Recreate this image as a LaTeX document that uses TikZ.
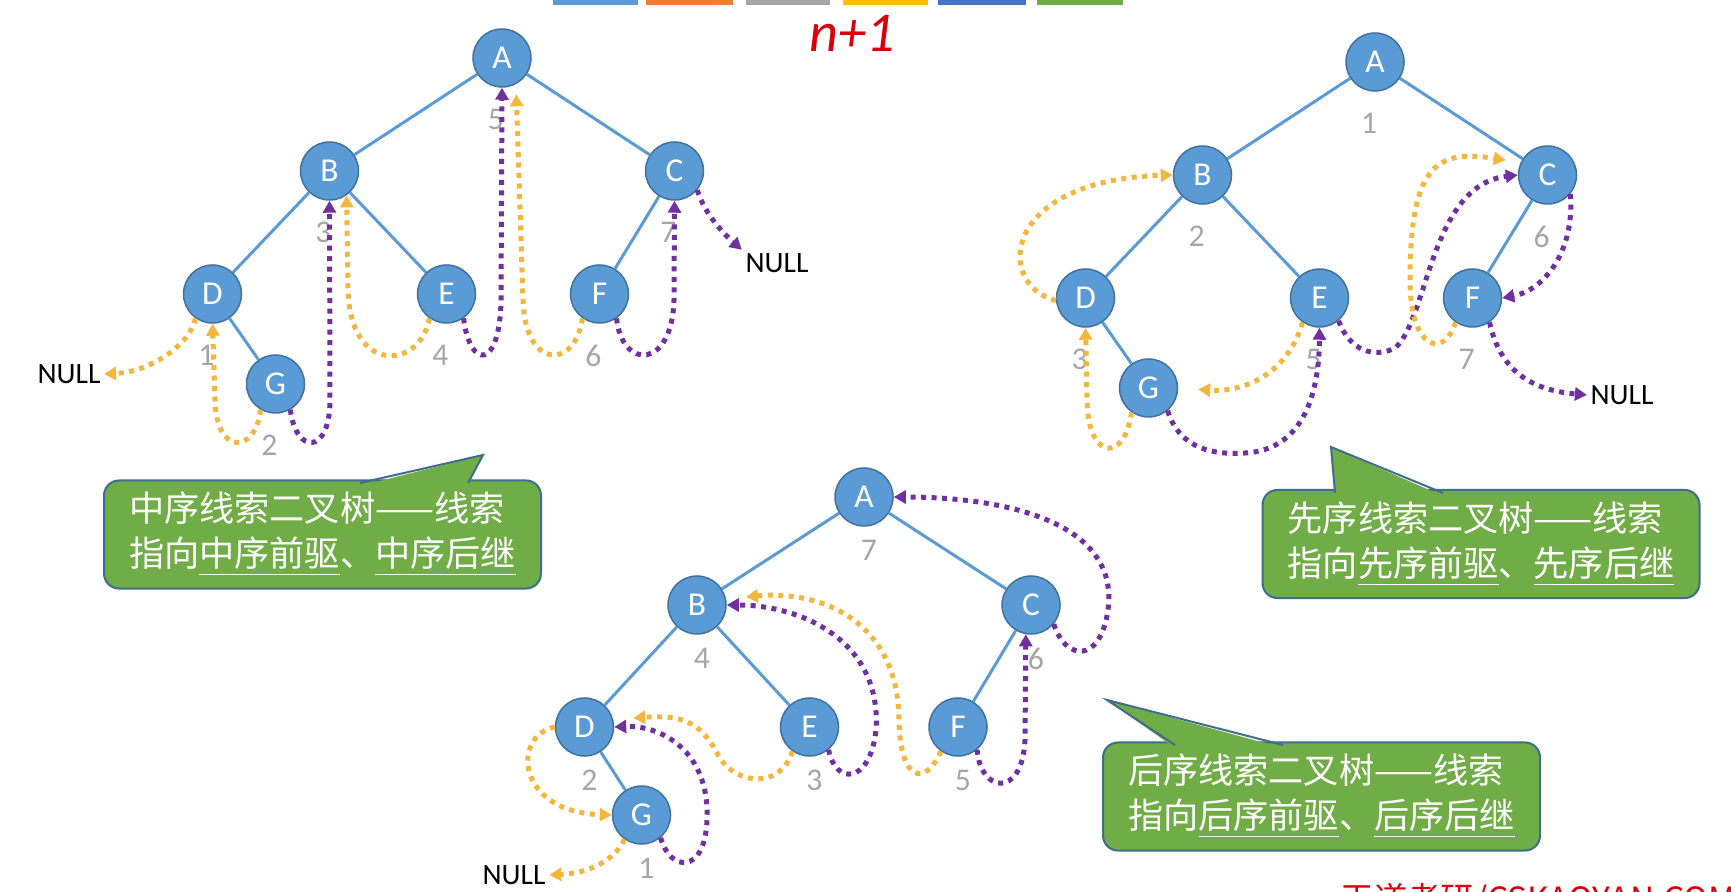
\documentclass[tikz,border=0pt]{standalone}
\usepackage{fontspec}
\setmainfont{Carlito}
\newfontfamily\cjk{Noto Sans CJK SC}
\usepackage{xcolor}
\usetikzlibrary{arrows.meta}

\definecolor{nodeblue}{HTML}{5B9BD5}
\definecolor{nodeline}{HTML}{41719C}
\definecolor{edgeblue}{HTML}{5B9BD5}
\definecolor{thryellow}{HTML}{F2B73C}
\definecolor{thrpurple}{HTML}{7030A0}
\definecolor{ordgray}{HTML}{A6A6A6}
\definecolor{notegreen}{HTML}{70AD47}
\definecolor{noteline}{HTML}{3E6E8E}
\definecolor{penred}{HTML}{D9000D}
\definecolor{tabblue}{HTML}{5B9BD5}
\definecolor{taborange}{HTML}{ED7D31}
\definecolor{tabgray}{HTML}{A5A5A5}
\definecolor{tabyellow}{HTML}{FFC000}
\definecolor{tabnavy}{HTML}{4472C4}
\definecolor{tabgreen}{HTML}{70AD47}

\begin{document}
\begin{tikzpicture}[x=0.1mm, y=-0.1mm,
    tnode/.style={circle, draw=nodeline, line width=0.15mm, fill=nodeblue, minimum size=5.8mm,
        inner sep=0pt, text=white, font=\fontsize{9.5}{10}\selectfont},
    edge from parent/.style={draw=edgeblue, line width=0.3mm},
    level 1/.style={sibling distance=34.5mm, level distance=11.3mm},
    level 2/.style={sibling distance=15mm, level distance=12.3mm},
    level 3/.style={sibling distance=12.6mm, level distance=9mm},
    wide/.style={sibling distance=23.4mm},
    label distance=0.9mm,
    every label/.style={text=ordgray, font=\fontsize{9}{10}\selectfont, xshift=-0.6mm},
    thread/.style={line width=0.5mm, dash pattern=on 0.5mm off 0.55mm,
        -{Triangle[length=1.2mm, width=1.3mm]}},
    predline/.style={thread, draw=thryellow},
    succline/.style={thread, draw=thrpurple},
    nulltext/.style={inner sep=0.3mm, font=\fontsize{8.4}{10}\selectfont},
    notebox/.style={rounded corners=1.5mm, fill=notegreen, draw=noteline, line width=0.2mm,
        text=white, minimum width=43.7mm, minimum height=10.3mm, align=left,
        font=\cjk\fontsize{10}{12.8}\selectfont},
    notetail/.style={fill=notegreen}]
    \useasboundingbox (0,0) rectangle (1731,892);
    \fill[white] (0,0) rectangle (1731,892);

    % tabs and pen marks
    \fill[tabblue] (553,0) rectangle (638,5);
    \fill[taborange] (646,0) rectangle (733,5);
    \fill[tabgray] (746,0) rectangle (830,5);
    \fill[tabyellow] (843,0) rectangle (928,5);
    \fill[tabnavy] (938,0) rectangle (1026,5);
    \fill[tabgreen] (1037,0) rectangle (1123,5);
    \node[text=penred, font=\itshape\fontsize{16}{16}\selectfont] (nplus) at (852,33) {n+1};
    \node[text=penred, font=\cjk\fontsize{9.5}{10}\selectfont, anchor=base west, inner sep=0pt]
        (brand) at (1340,911) {王道考研/CSKAOYAN.COM};

    % inorder
    \node[tnode, label=below:5] (a1) at (502,58) {A}
        child {node[tnode, label=below:3] (b1) {B}
            child[wide] {node[tnode, label=below:1] (d1) {D}
                child[missing] {}
                child {node[tnode, label=below:2] (g1) {G}}
            }
            child[wide] {node[tnode, label=below:4] (e1) {E}}
        }
        child {node[tnode, label=below:7] (c1) {C}
            child {node[tnode, label=below:6] (f1) {F}}
            child[missing] {}
        };
    \node[nulltext] (null1) at (69,374) {NULL};
    \node[nulltext] (null2) at (777,263) {NULL};
    \draw[predline] (d1.235) .. controls (190,345) and (150,372) .. (null1.east);
    \draw[predline] (g1.240) .. controls (255,455) and (216,455) .. (215,400) -- (d1.south);
    \draw[succline] (g1.-60) .. controls (296,455) and (330,455) .. (330,400) -- (b1.south);
    \draw[predline] (e1.235) .. controls (420,370) and (350,375) .. (348,290) -- (b1.-55);
    \draw[succline] (e1.-55) .. controls (470,370) and (500,370) .. (501,300) -- (a1.south);
    \draw[predline, shorten >=1mm] (f1.235) .. controls (575,370) and (525,370) .. (523,300) -- (a1.-62);
    \draw[succline] (f1.-55) .. controls (622,370) and (672,370) .. (674,300) -- (c1.south);
    \draw[succline] (c1.-40) .. controls (705,215) and (725,235) .. (null2.north west);

    % preorder
    \node[tnode, label=below:1] (a2) at (1375,62) {A}
        child {node[tnode, label=below:2] (b2) {B}
            child[wide] {node[tnode, label=below:3] (d2) {D}
                child[missing] {}
                child {node[tnode] (g2) {G}}
            }
            child[wide] {node[tnode, label=below:5] (e2) {E}}
        }
        child {node[tnode, label=below:6] (c2) {C}
            child {node[tnode, label=below:7] (f2) {F}}
            child[missing] {}
        };
    \node[nulltext] (null3) at (1622,395) {NULL};
    \draw[predline] (d2.185) .. controls (995,285) and (1000,180) .. (b2.west);
    \draw[predline] (g2.235) .. controls (1125,462) and (1088,462) .. (1087,400) -- (d2.south);
    \draw[succline] (g2.-50) .. controls (1180,450) and (1215,455) .. (1245,453)
        .. controls (1300,450) and (1319,400) .. (e2.south);
    \draw[predline, shorten >=2mm] (e2.235) .. controls (1290,368) and (1250,393) .. (g2.east);
    \draw[succline] (e2.-50) .. controls (1350,352) and (1375,358) .. (1395,348)
        .. controls (1428,320) and (1430,185) .. (c2.west);
    \draw[predline, shorten >=1.5mm] (f2.235) .. controls (1445,358) and (1410,352) .. (1410,280)
        .. controls (1410,160) and (1440,150) .. (c2.155);
    \draw[succline] (f2.-55) .. controls (1500,370) and (1530,390) .. (null3.west);
    \draw[succline] (c2.-40) .. controls (1575,250) and (1545,290) .. (f2.east);

    % postorder
    \begin{scope}[level 1/.style={sibling distance=33.4mm, level distance=10.8mm},
        level 2/.style={sibling distance=14.6mm, level distance=12.2mm},
        level 3/.style={sibling distance=11.4mm, level distance=8.8mm},
        wide/.style={sibling distance=22.5mm},
        label distance=0.1mm, every label/.append style={xshift=1.1mm}]
    \node[tnode, label=below:7] (a3) at (864,497) {A}
        child {node[tnode, label=below:4] (b3) {B}
            child[wide] {node[tnode, label=below:2] (d3) {D}
                child[missing] {}
                child {node[tnode, label=below:1] (g3) {G}}
            }
            child[wide] {node[tnode, label=below:3] (e3) {E}}
        }
        child {node[tnode, label=below:6] (c3) {C}
            child {node[tnode, label=below:5] (f3) {F}}
            child[missing] {}
        };
    \end{scope}
    \node[nulltext] (null4) at (514,875) {NULL};
    \draw[predline] (g3.235) .. controls (615,860) and (590,873) .. (null4.east);
    \draw[succline] (g3.-50) .. controls (670,872) and (705,875) .. (707,820)
        .. controls (710,750) and (660,725) .. (d3.east);
    \draw[predline] (d3.west) .. controls (512,735) and (515,812) .. (g3.west);
    \draw[predline, shorten >=2mm] (e3.235) .. controls (780,790) and (735,785) .. (718,755)
        .. controls (700,720) and (680,715) .. (d3.15);
    \draw[succline] (e3.-50) .. controls (835,785) and (870,785) .. (876,730)
        .. controls (882,640) and (800,605) .. (b3.east);
    \draw[predline, shorten >=2mm] (f3.235) .. controls (925,787) and (900,782) .. (899,720)
        .. controls (898,620) and (820,590) .. (b3.12);
    \draw[succline] (f3.-50) .. controls (980,792) and (1022,800) .. (1025,740) -- (c3.-100);
    \draw[succline] (c3.-40) .. controls (1065,660) and (1100,665) .. (1108,610)
        .. controls (1120,520) and (1000,497) .. (a3.east);

    % callouts
    \node[notebox] (note1) at (322.5,534.5) {中序线索二叉树——线索\\指向\underline{中序前驱}、\underline{中序后继}};
    \fill[notetail] (360,486) -- (483,455) -- (468,486) -- cycle;
    \draw[noteline, line width=0.2mm] (360,483) -- (483,455) -- (468,483);

    \node[notebox] (note2) at (1481,544) {先序线索二叉树——线索\\指向\underline{先序前驱}、\underline{先序后继}};
    \fill[notetail] (1335,496) -- (1331,447) -- (1443,496) -- cycle;
    \draw[noteline, line width=0.2mm] (1335,493) -- (1331,447) -- (1443,493);

    \node[notebox] (note3) at (1321.5,796.5) {后序线索二叉树——线索\\指向\underline{后序前驱}、\underline{后序后继}};
    \fill[notetail] (1175,748) -- (1107,700) -- (1283,748) -- cycle;
    \draw[noteline, line width=0.2mm] (1175,745) -- (1107,700) -- (1283,745);
\end{tikzpicture}
\end{document}
